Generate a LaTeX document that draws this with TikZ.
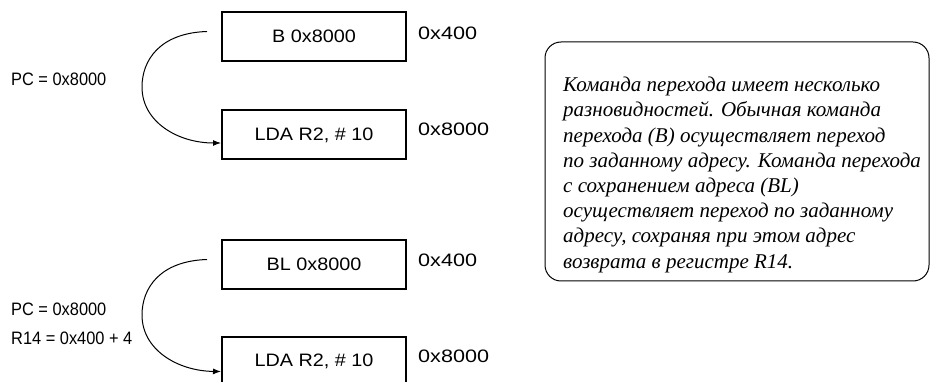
\documentclass[tikz,border=0pt]{standalone}
\usepackage{fontspec}
\setmainfont{Liberation Serif}
\newfontfamily\boxfont[FakeStretch=1.1]{Liberation Sans}
\newfontfamily\addrfont[FakeStretch=1.2]{Liberation Sans}
\newfontfamily\notefont[FakeStretch=0.91]{Liberation Sans}
\usetikzlibrary{arrows.meta,calc}

\tikzset{
  instr/.style={draw, line width=2pt, minimum width=184pt, minimum height=49pt,
    inner sep=0pt, font=\boxfont\fontsize{18}{22}\selectfont},
  addr/.style={anchor=west, inner sep=0pt, font=\addrfont\fontsize{18}{22}\selectfont},
  note/.style={anchor=west, inner sep=0pt, align=left, font=\notefont\fontsize{18}{29}\selectfont},
  jump/.style={line width=1pt, -{Latex[length=8pt,width=6pt]}},
  remark/.style={draw, line width=1pt, rounded corners=16pt},
  remarktext/.style={anchor=north west, inner sep=0pt, align=left,
    font=\itshape\fontsize{21}{25.2}\selectfont}
}

\begin{document}
\begin{tikzpicture}[x=1pt,y=-1pt]
  \useasboundingbox (0,0) rectangle (930,382);
  \clip (0,0) rectangle (930,382);

  % Plain branch: B
  \node[instr] (b1) at (314,36.5) {B 0x8000};
  \node[instr] (b2) at (314,135) {LDA R2, \# 10};
  \node[addr] (a1) at (418,33) {0x400};
  \node[addr] (a2) at (418,129) {0x8000};
  \node[note] (n1) at (11,79) {PC = 0x8000};
  \coordinate (s1) at ($(b1.west)+(-14,-5)$);
  \coordinate (e1) at ($(b2.west)+(0,8)$);
  \draw[jump] (s1) .. controls (160,33) and (142,60) .. (142,87)
                   .. controls (142,122) and (178,143) .. (e1);

  % Branch with link: BL
  \node[instr] (b3) at (314,264.5) {BL 0x8000};
  \node[instr] (b4) at (314,361.5) {LDA R2, \# 10};
  \node[addr] (a3) at (418,260) {0x400};
  \node[addr] (a4) at (418,356) {0x8000};
  \node[note] (n2) at (11,323.5) {PC = 0x8000\\R14 = 0x400 + 4};
  \coordinate (s2) at ($(b3.west)+(-14,-5)$);
  \coordinate (e2) at ($(b4.west)+(0,10)$);
  \draw[jump] (s2) .. controls (160,261) and (142,288) .. (142,315)
                   .. controls (142,350) and (178,371) .. (e2);

  % Explanation
  \draw[remark] (545,42) rectangle (929,281);
  \node[remarktext] (txt) at (563,77) {Команда перехода имеет несколько\\
    разновидностей. Обычная команда\\
    перехода (B) осуществляет переход\\
    по заданному адресу. Команда перехода\\
    с сохранением адреса (BL)\\
    осуществляет переход по заданному\\
    адресу, сохраняя при этом адрес\\
    возврата в регистре R14.};
\end{tikzpicture}
\end{document}
